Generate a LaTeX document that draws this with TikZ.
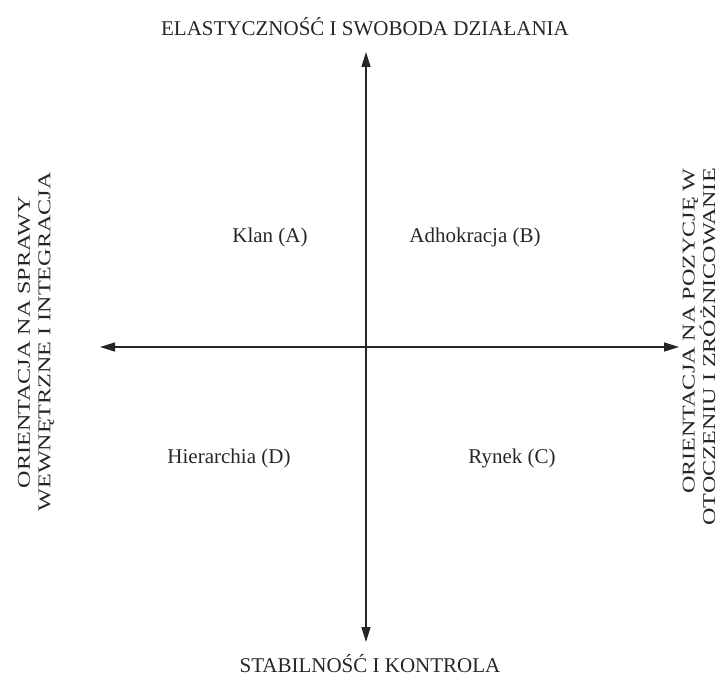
\documentclass[tikz,border=0pt]{standalone}
\usepackage{fontspec}
\setmainfont{Liberation Serif}
\usetikzlibrary{arrows.meta}
\tikzset{
  axis/.style={line width=1.4pt, draw=black!85, {Triangle[length=15pt,width=9pt]}-{Triangle[length=15pt,width=9pt]}},
  lbl/.style={font=\fontsize{21}{23}\selectfont, inner sep=0pt, text=black!85},
  side/.style={font=\fontsize{18}{20.5}\selectfont, inner sep=0pt, rotate=90, xscale=1.34, text=black!85},
}
\begin{document}
\begin{tikzpicture}[x=1pt,y=-1pt]
\path[use as bounding box] (0,0) rectangle (725,682);
\coordinate (O) at (366,347);
\coordinate (top) at (366,52);
\coordinate (bot) at (366,642);
\coordinate (lft) at (100,347);
\coordinate (rgt) at (679,347);
\draw[axis] (top) -- (bot);
\draw[axis] (lft) -- (rgt);
\node[lbl] (ttl) at (365,27) {ELASTYCZNOŚĆ I SWOBODA DZIAŁANIA};
\node[lbl] (btl) at (370,664) {STABILNOŚĆ I KONTROLA};
\node[side, align=center] (ltl) at (36,342) {ORIENTACJA NA SPRAWY\\WEWNĘTRZNE I INTEGRACJA};
\node[side, align=right, anchor=east] (rtl) at (699,168) {ORIENTACJA NA POZYCJĘ W\\OTOCZENIU I ZRÓŻNICOWANIE};
\node[lbl] (qa) at (270,237) {Klan (A)};
\node[lbl] (qb) at (475,237) {Adhokracja (B)};
\node[lbl] (qd) at (229,458) {Hierarchia (D)};
\node[lbl] (qc) at (512,458) {Rynek (C)};
\end{tikzpicture}
\end{document}
